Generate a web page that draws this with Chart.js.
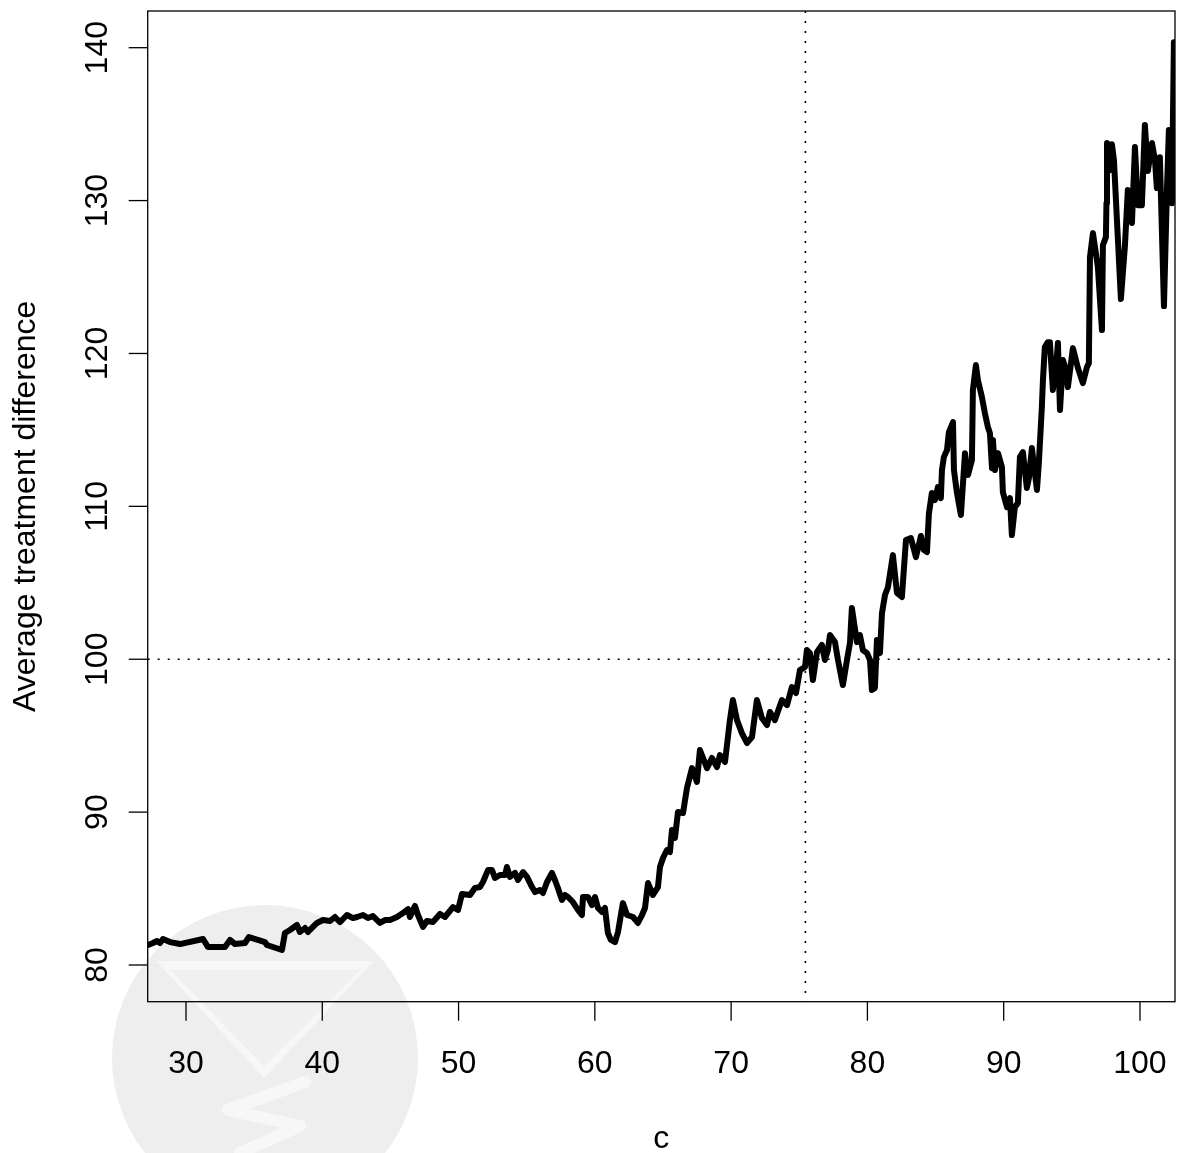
<!DOCTYPE html>
<html>
<head>
<meta charset="utf-8">
<script src="https://cdn.jsdelivr.net/npm/chart.js@4.4.1/dist/chart.umd.min.js"></script>
<style>
  html, body { margin: 0; padding: 0; background: #ffffff; }
  #wrap { width: 1177px; height: 1153px; position: relative; }
</style>
</head>
<body>
<div id="wrap"><canvas id="chart"></canvas></div>
<script>
// Cut-off value c
const cutoffs = [
  27.21, 27.58, 27.87, 28.09, 28.31, 28.83, 29.56, 31.25, 31.61, 32.86,
  33.23, 33.60, 34.33, 34.62, 35.80, 35.94, 37.04, 37.26, 37.63, 38.14,
  38.36, 38.73, 38.95, 39.61, 40.05, 40.57, 40.93, 41.30, 41.81, 42.25,
  42.55, 42.99, 43.35, 43.72, 44.23, 44.60, 44.97, 45.48, 45.92, 46.29,
  46.43, 46.80, 47.02, 47.39, 47.68, 48.12, 48.64, 49.00, 49.59, 49.96,
  50.25, 50.84, 51.20, 51.57, 51.79, 52.16, 52.45, 52.67, 53.04, 53.41,
  53.55, 53.77, 54.14, 54.36, 54.73, 55.02, 55.39, 55.61, 55.97, 56.19,
  56.49, 56.85, 57.07, 57.29, 57.59, 57.81, 58.03, 58.39, 58.76, 59.05,
  59.13, 59.49, 59.79, 60.01, 60.23, 60.52, 60.74, 60.96, 61.18, 61.48,
  61.70, 62.06, 62.36, 62.80, 63.16, 63.46, 63.68, 63.90, 64.26, 64.63,
  64.78, 65.00, 65.29, 65.51, 65.66, 65.88, 66.10, 66.47, 66.76, 67.13,
  67.49, 67.71, 68.23, 68.59, 68.96, 69.18, 69.55, 69.91, 70.13, 70.43,
  70.79, 71.16, 71.53, 71.89, 72.26, 72.63, 72.85, 73.21, 73.73, 74.10,
  74.46, 74.76, 75.05, 75.42, 75.56, 75.78, 76.00, 76.30, 76.66, 76.88,
  77.10, 77.25, 77.62, 77.84, 78.20, 78.50, 78.72, 78.86, 79.23, 79.45,
  79.67, 79.97, 80.19, 80.33, 80.55, 80.70, 80.92, 81.07, 81.29, 81.51,
  81.87, 82.17, 82.53, 82.83, 83.19, 83.56, 83.93, 84.15, 84.37, 84.51,
  84.73, 84.95, 85.17, 85.39, 85.47, 85.61, 85.84, 85.98, 86.28, 86.35,
  86.57, 86.86, 87.16, 87.38, 87.67, 87.74, 87.96, 88.11, 88.40, 88.62,
  88.84, 88.99, 89.14, 89.21, 89.36, 89.58, 89.87, 89.94, 90.24, 90.46,
  90.60, 90.82, 91.04, 91.19, 91.41, 91.70, 91.85, 92.07, 92.44, 92.58,
  92.80, 92.88, 93.02, 93.24, 93.39, 93.61, 93.90, 93.98, 94.13, 94.35,
  94.57, 94.71, 95.08, 95.45, 95.81, 96.11, 96.25, 96.33, 96.55, 96.91,
  97.21, 97.28, 97.50, 97.54, 97.58, 97.79, 97.94, 98.09, 98.60, 98.89,
  99.11, 99.41, 99.63, 99.85, 100.14, 100.36, 100.58, 100.88, 101.10, 101.24,
  101.46, 101.76, 101.98, 102.12, 102.34, 102.49
];

// Average treatment difference at each cut-off
const avgDiff = [
  81.31, 81.44, 81.57, 81.44, 81.70, 81.50, 81.37, 81.70, 81.18, 81.18,
  81.64, 81.37, 81.44, 81.83, 81.50, 81.31, 80.98, 82.09, 82.29, 82.62,
  82.16, 82.42, 82.16, 82.75, 82.94, 82.88, 83.14, 82.81, 83.27, 83.07,
  83.14, 83.27, 83.07, 83.20, 82.75, 82.94, 82.94, 83.14, 83.40, 83.66,
  83.14, 83.86, 83.27, 82.49, 82.88, 82.81, 83.34, 83.14, 83.79, 83.60,
  84.64, 84.58, 85.04, 85.10, 85.43, 86.21, 86.21, 85.69, 85.89, 85.89,
  86.41, 85.76, 86.02, 85.56, 86.08, 85.76, 85.10, 84.77, 84.91, 84.71,
  85.43, 86.02, 85.56, 85.04, 84.25, 84.58, 84.45, 84.12, 83.60, 83.27,
  84.45, 84.45, 83.92, 84.45, 83.73, 83.47, 83.73, 82.09, 81.64, 81.50,
  82.16, 84.05, 83.27, 83.14, 82.75, 83.27, 83.73, 85.36, 84.58, 85.10,
  86.41, 87.00, 87.52, 87.39, 88.83, 88.31, 90.01, 89.94, 91.58, 92.88,
  91.97, 94.06, 92.88, 93.54, 92.95, 93.73, 93.28, 96.02, 97.33, 96.02,
  95.17, 94.52, 94.91, 97.33, 96.15, 95.70, 96.55, 96.02, 97.33, 97.00,
  98.18, 97.79, 99.29, 99.49, 100.60, 100.40, 98.64, 100.47, 100.93, 99.95,
  100.60, 101.58, 101.12, 99.95, 98.31, 99.95, 101.06, 103.35, 101.12, 101.58,
  100.60, 100.40, 99.95, 97.99, 98.12, 101.26, 100.40, 103.02, 104.20, 104.72,
  106.81, 104.33, 104.07, 107.80, 107.93, 106.68, 108.06, 107.14, 107.01, 109.50,
  110.87, 110.41, 111.26, 110.54, 112.37, 113.22, 113.68, 114.86, 115.51, 112.37,
  110.87, 109.43, 113.48, 112.05, 113.03, 117.61, 119.24, 118.26, 117.15, 116.10,
  115.19, 114.79, 112.50, 114.34, 112.37, 113.48, 112.57, 110.93, 109.95, 110.54,
  108.12, 109.95, 110.21, 113.22, 113.55, 111.20, 111.85, 113.81, 111.07, 112.83,
  116.49, 118.26, 120.42, 120.74, 120.74, 117.61, 119.76, 120.68, 116.30, 119.57,
  118.91, 117.80, 120.35, 119.04, 118.06, 119.11, 119.37, 126.30, 127.87, 125.65,
  121.53, 127.09, 127.61, 129.83, 133.76, 131.99, 133.69, 132.65, 123.56, 126.96,
  130.69, 128.53, 133.50, 129.70, 129.70, 134.94, 131.93, 133.76, 132.65, 130.82,
  132.84, 123.10, 130.69, 134.61, 129.83, 140.36
];

// Axis ticks and ranges
const xTickValues = [30, 40, 50, 60, 70, 80, 90, 100];
const yTickValues = [80, 90, 100, 110, 120, 130, 140];
const xRange = [27.19, 102.57];
const yRange = [77.60, 142.40];

// Reference lines
const refLevel = 100;
const refCutoff = 75.45;

const xTitle = 'c';
const yTitle = 'Average treatment difference';

const FONT = '"Liberation Sans", Arial, Helvetica, sans-serif';

const points = cutoffs.map((c, i) => ({ x: c, y: avgDiff[i] }));

// Faint circular emblem behind the figure
const emblemPlugin = {
  id: 'emblem',
  beforeDraw(chart) {
    const ctx = chart.ctx;
    ctx.save();
    ctx.fillStyle = '#ffffff';
    ctx.fillRect(0, 0, chart.width, chart.height);
    ctx.fillStyle = '#eeeeee';
    ctx.beginPath();
    ctx.arc(265, 1058, 153, 0, Math.PI * 2);
    ctx.fill();
    // thin light rim round the triangle
    ctx.fillStyle = '#f7f7f7';
    ctx.beginPath();
    ctx.moveTo(156, 961); ctx.lineTo(374, 961); ctx.lineTo(264, 1078); ctx.closePath();
    ctx.fill();
    ctx.fillStyle = '#f0f0f0';
    ctx.beginPath();
    ctx.moveTo(170, 970); ctx.lineTo(360, 970); ctx.lineTo(264, 1066); ctx.closePath();
    ctx.fill();
    // S-shaped ribbon
    ctx.strokeStyle = '#f7f7f7';
    ctx.lineWidth = 12;
    ctx.lineJoin = 'round';
    ctx.lineCap = 'round';
    ctx.beginPath();
    ctx.moveTo(305, 1082);
    ctx.lineTo(228, 1110);
    ctx.lineTo(300, 1126);
    ctx.lineTo(240, 1153);
    ctx.stroke();
    ctx.restore();
  }
};

// Dotted reference lines under the curve
const refLinePlugin = {
  id: 'refLines',
  beforeDatasetsDraw(chart) {
    const { ctx, chartArea: a, scales: { x, y } } = chart;
    ctx.save();
    ctx.strokeStyle = '#000000';
    ctx.lineWidth = 1.6;
    ctx.setLineDash([2, 8]);
    const yp = y.getPixelForValue(refLevel);
    ctx.beginPath(); ctx.moveTo(a.left, yp); ctx.lineTo(a.right, yp); ctx.stroke();
    const xp = x.getPixelForValue(refCutoff);
    ctx.beginPath(); ctx.moveTo(xp, a.top); ctx.lineTo(xp, a.bottom); ctx.stroke();
    ctx.restore();
  }
};

// Box, tick marks, tick labels and axis titles
const frameAxesPlugin = {
  id: 'frameAxes',
  afterDraw(chart) {
    const { ctx, chartArea: a, scales: { x, y } } = chart;
    ctx.save();
    ctx.strokeStyle = '#000000';
    ctx.lineWidth = 1.3;
    ctx.strokeRect(a.left, a.top, a.right - a.left, a.bottom - a.top);

    const tickLen = 19;
    ctx.fillStyle = '#000000';
    ctx.font = '32px ' + FONT;

    // x axis
    ctx.textAlign = 'center';
    ctx.textBaseline = 'alphabetic';
    x.ticks.forEach(t => {
      const px = x.getPixelForValue(t.value);
      ctx.beginPath(); ctx.moveTo(px, a.bottom); ctx.lineTo(px, a.bottom + tickLen); ctx.stroke();
      ctx.fillText(String(t.value), px, a.bottom + 71);
    });

    // y axis
    y.ticks.forEach(t => {
      const py = y.getPixelForValue(t.value);
      ctx.beginPath(); ctx.moveTo(a.left, py); ctx.lineTo(a.left - tickLen, py); ctx.stroke();
      ctx.save();
      ctx.translate(a.left - 41, py);
      ctx.rotate(-Math.PI / 2);
      ctx.fillText(String(t.value), 0, 0);
      ctx.restore();
    });

    // titles
    ctx.font = '32px ' + FONT;
    ctx.fillText(xTitle, (a.left + a.right) / 2, 1148);
    ctx.save();
    ctx.translate(35, (a.top + a.bottom) / 2);
    ctx.rotate(-Math.PI / 2);
    ctx.fillText(yTitle, 0, 0);
    ctx.restore();
    ctx.restore();
  }
};

new Chart(document.getElementById('chart'), {
  type: 'line',
  data: {
    datasets: [{
      data: points,
      borderColor: '#000000',
      borderWidth: 6,
      pointRadius: 0,
      tension: 0,
      fill: false,
      borderJoinStyle: 'round',
      borderCapStyle: 'round'
    }]
  },
  options: {
    responsive: true,
    maintainAspectRatio: false,
    animation: false,
    events: [],
    layout: { padding: { top: 11, right: 2, left: 0, bottom: 0 } },
    plugins: { legend: { display: false }, tooltip: { enabled: false } },
    scales: {
      x: {
        type: 'linear',
        min: xRange[0],
        max: xRange[1],
        grid: { display: false },
        border: { display: false },
        ticks: { display: false },
        afterBuildTicks: s => { s.ticks = xTickValues.map(v => ({ value: v })); },
        afterFit: s => { s.height = 151.3; }
      },
      y: {
        type: 'linear',
        min: yRange[0],
        max: yRange[1],
        grid: { display: false },
        border: { display: false },
        ticks: { display: false },
        afterBuildTicks: s => { s.ticks = yTickValues.map(v => ({ value: v })); },
        afterFit: s => { s.width = 147.7; }
      }
    }
  },
  plugins: [emblemPlugin, refLinePlugin, frameAxesPlugin]
});
</script>
</body>
</html>
